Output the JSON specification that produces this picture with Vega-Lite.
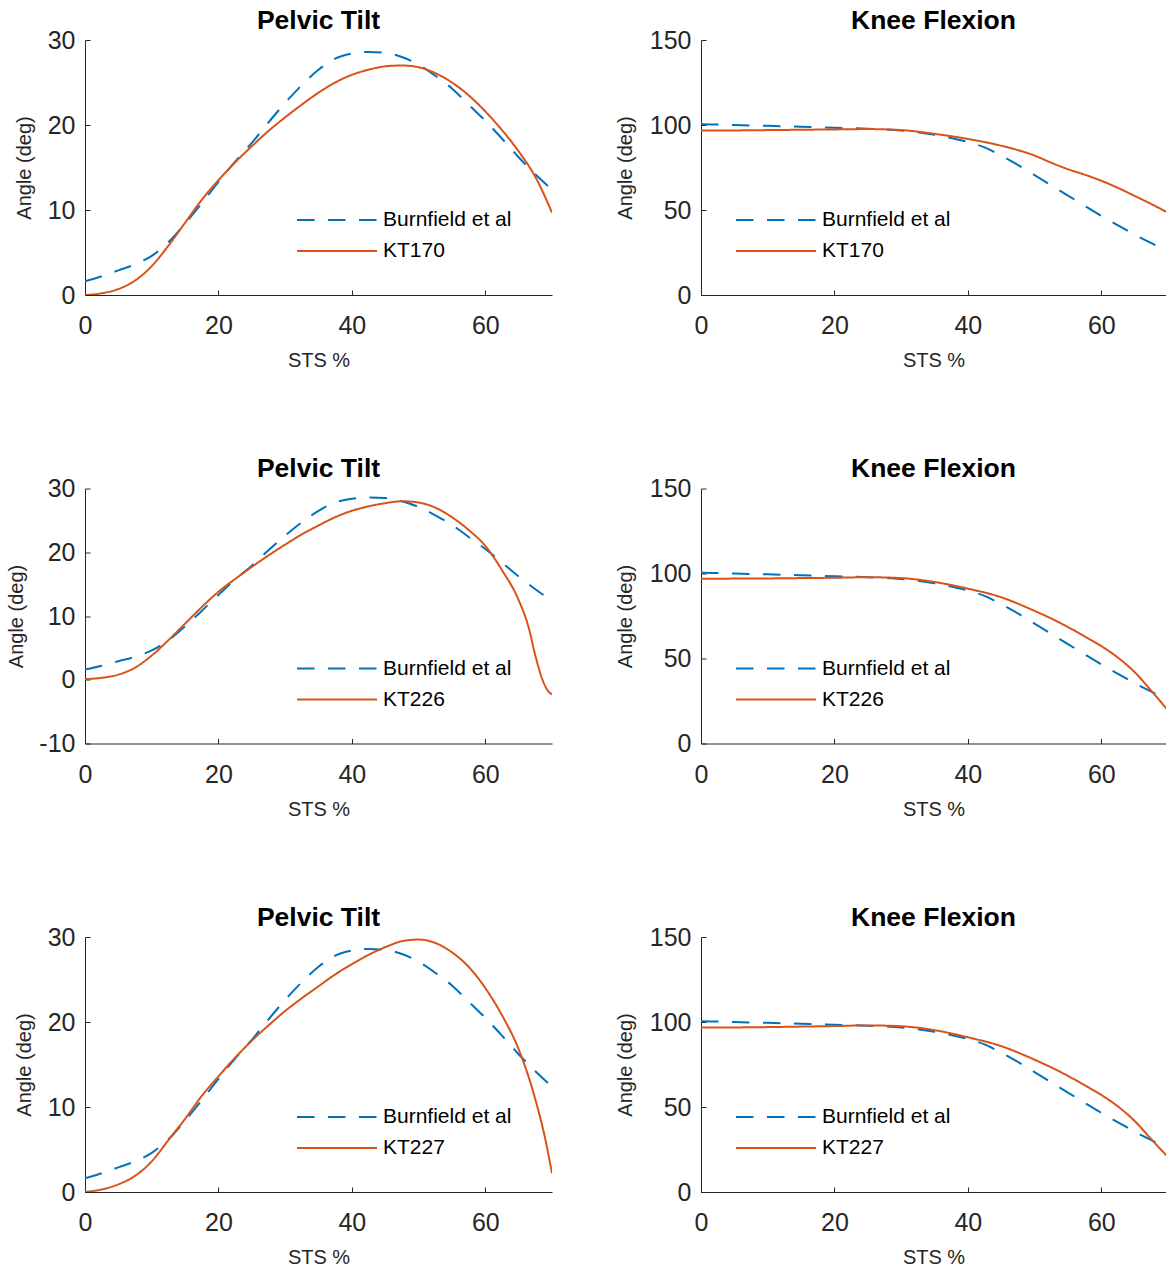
{
  "$schema": "https://vega.github.io/schema/vega-lite/v6.json",
  "background": "white",
  "padding": {"top": 7, "left": 6, "right": 0, "bottom": 0},
  "columns": 2,
  "spacing": {"row": 84.5, "column": 63},
  "datasets": {
    "bp": [
      {"x": 0, "y": 1.6, "s": "Burnfield et al"}, {"x": 2.5, "y": 2.2, "s": "Burnfield et al"}, {"x": 5, "y": 2.9, "s": "Burnfield et al"}, {"x": 7.5, "y": 3.6, "s": "Burnfield et al"}, {"x": 10, "y": 4.6, "s": "Burnfield et al"}, {"x": 12.5, "y": 6.2, "s": "Burnfield et al"}, {"x": 15, "y": 8.4, "s": "Burnfield et al"}, {"x": 17.5, "y": 10.8, "s": "Burnfield et al"}, {"x": 20, "y": 13.3, "s": "Burnfield et al"}, {"x": 22.5, "y": 15.7, "s": "Burnfield et al"}, {"x": 25, "y": 17.9, "s": "Burnfield et al"}, {"x": 27.5, "y": 20.3, "s": "Burnfield et al"}, {"x": 30, "y": 22.6, "s": "Burnfield et al"}, {"x": 32.5, "y": 24.7, "s": "Burnfield et al"}, {"x": 35, "y": 26.5, "s": "Burnfield et al"}, {"x": 37.5, "y": 27.8, "s": "Burnfield et al"}, {"x": 40, "y": 28.4, "s": "Burnfield et al"}, {"x": 42.5, "y": 28.6, "s": "Burnfield et al"}, {"x": 45, "y": 28.5, "s": "Burnfield et al"}, {"x": 47.5, "y": 28.0, "s": "Burnfield et al"}, {"x": 50, "y": 27.1, "s": "Burnfield et al"}, {"x": 52.5, "y": 25.8, "s": "Burnfield et al"}, {"x": 55, "y": 24.3, "s": "Burnfield et al"}, {"x": 57.5, "y": 22.4, "s": "Burnfield et al"}, {"x": 60, "y": 20.5, "s": "Burnfield et al"}, {"x": 62.5, "y": 18.4, "s": "Burnfield et al"}, {"x": 65, "y": 16.2, "s": "Burnfield et al"}, {"x": 67.5, "y": 14.2, "s": "Burnfield et al"}, {"x": 70, "y": 12.4, "s": "Burnfield et al"}
    ],
    "bk": [
      {"x": 0, "y": 100.5, "s": "Burnfield et al"}, {"x": 5, "y": 100, "s": "Burnfield et al"}, {"x": 10, "y": 99.5, "s": "Burnfield et al"}, {"x": 15, "y": 99, "s": "Burnfield et al"}, {"x": 20, "y": 98.4, "s": "Burnfield et al"}, {"x": 25, "y": 97.8, "s": "Burnfield et al"}, {"x": 30, "y": 96.8, "s": "Burnfield et al"}, {"x": 35, "y": 94.2, "s": "Burnfield et al"}, {"x": 37.5, "y": 92.3, "s": "Burnfield et al"}, {"x": 40, "y": 90, "s": "Burnfield et al"}, {"x": 42.5, "y": 86.8, "s": "Burnfield et al"}, {"x": 45, "y": 82, "s": "Burnfield et al"}, {"x": 47.5, "y": 76.5, "s": "Burnfield et al"}, {"x": 50, "y": 70.5, "s": "Burnfield et al"}, {"x": 52.5, "y": 64.5, "s": "Burnfield et al"}, {"x": 55, "y": 58.5, "s": "Burnfield et al"}, {"x": 57.5, "y": 52.5, "s": "Burnfield et al"}, {"x": 60, "y": 46.5, "s": "Burnfield et al"}, {"x": 62.5, "y": 41, "s": "Burnfield et al"}, {"x": 65, "y": 35.5, "s": "Burnfield et al"}, {"x": 67.5, "y": 30.5, "s": "Burnfield et al"}, {"x": 70, "y": 25.5, "s": "Burnfield et al"}
    ],
    "p170": [
      {"x": 0, "y": 0, "s": "KT170"}, {"x": 2.5, "y": 0.2, "s": "KT170"}, {"x": 5, "y": 0.7, "s": "KT170"}, {"x": 7.5, "y": 1.7, "s": "KT170"}, {"x": 10, "y": 3.4, "s": "KT170"}, {"x": 12.5, "y": 5.8, "s": "KT170"}, {"x": 15, "y": 8.5, "s": "KT170"}, {"x": 17.5, "y": 11.2, "s": "KT170"}, {"x": 20, "y": 13.5, "s": "KT170"}, {"x": 22.5, "y": 15.6, "s": "KT170"}, {"x": 25, "y": 17.5, "s": "KT170"}, {"x": 27.5, "y": 19.3, "s": "KT170"}, {"x": 30, "y": 20.9, "s": "KT170"}, {"x": 32.5, "y": 22.4, "s": "KT170"}, {"x": 35, "y": 23.8, "s": "KT170"}, {"x": 37.5, "y": 25.0, "s": "KT170"}, {"x": 40, "y": 25.9, "s": "KT170"}, {"x": 42.5, "y": 26.5, "s": "KT170"}, {"x": 45, "y": 26.9, "s": "KT170"}, {"x": 47.5, "y": 27.0, "s": "KT170"}, {"x": 50, "y": 26.8, "s": "KT170"}, {"x": 52.5, "y": 26.1, "s": "KT170"}, {"x": 55, "y": 25.0, "s": "KT170"}, {"x": 57.5, "y": 23.5, "s": "KT170"}, {"x": 60, "y": 21.6, "s": "KT170"}, {"x": 62.5, "y": 19.4, "s": "KT170"}, {"x": 65, "y": 16.9, "s": "KT170"}, {"x": 67.5, "y": 13.9, "s": "KT170"}, {"x": 70, "y": 9.7, "s": "KT170"}
    ],
    "k170": [
      {"x": 0, "y": 96.7, "s": "KT170"}, {"x": 5, "y": 96.8, "s": "KT170"}, {"x": 10, "y": 97.0, "s": "KT170"}, {"x": 15, "y": 97.2, "s": "KT170"}, {"x": 20, "y": 97.4, "s": "KT170"}, {"x": 25, "y": 97.6, "s": "KT170"}, {"x": 30, "y": 97.0, "s": "KT170"}, {"x": 35, "y": 94.8, "s": "KT170"}, {"x": 40, "y": 91.8, "s": "KT170"}, {"x": 45, "y": 87.8, "s": "KT170"}, {"x": 50, "y": 82, "s": "KT170"}, {"x": 52.5, "y": 77.8, "s": "KT170"}, {"x": 55, "y": 74.0, "s": "KT170"}, {"x": 57.5, "y": 70.8, "s": "KT170"}, {"x": 60, "y": 67.2, "s": "KT170"}, {"x": 62.5, "y": 63.0, "s": "KT170"}, {"x": 65, "y": 58.3, "s": "KT170"}, {"x": 67.5, "y": 53.5, "s": "KT170"}, {"x": 70, "y": 48.4, "s": "KT170"}
    ],
    "p226": [
      {"x": 0, "y": 0.1, "s": "KT226"}, {"x": 2.5, "y": 0.3, "s": "KT226"}, {"x": 5, "y": 0.8, "s": "KT226"}, {"x": 7.5, "y": 1.9, "s": "KT226"}, {"x": 10, "y": 3.8, "s": "KT226"}, {"x": 12.5, "y": 6.2, "s": "KT226"}, {"x": 15, "y": 8.8, "s": "KT226"}, {"x": 17.5, "y": 11.4, "s": "KT226"}, {"x": 20, "y": 13.8, "s": "KT226"}, {"x": 22.5, "y": 15.8, "s": "KT226"}, {"x": 25, "y": 17.7, "s": "KT226"}, {"x": 27.5, "y": 19.5, "s": "KT226"}, {"x": 30, "y": 21.2, "s": "KT226"}, {"x": 32.5, "y": 22.8, "s": "KT226"}, {"x": 35, "y": 24.2, "s": "KT226"}, {"x": 37.5, "y": 25.5, "s": "KT226"}, {"x": 40, "y": 26.5, "s": "KT226"}, {"x": 42.5, "y": 27.2, "s": "KT226"}, {"x": 45, "y": 27.7, "s": "KT226"}, {"x": 47.5, "y": 28.0, "s": "KT226"}, {"x": 50, "y": 27.8, "s": "KT226"}, {"x": 52.5, "y": 27.0, "s": "KT226"}, {"x": 55, "y": 25.5, "s": "KT226"}, {"x": 57.5, "y": 23.5, "s": "KT226"}, {"x": 60, "y": 21.0, "s": "KT226"}, {"x": 62.5, "y": 17.2, "s": "KT226"}, {"x": 65, "y": 12.5, "s": "KT226"}, {"x": 66.5, "y": 8.2, "s": "KT226"}, {"x": 67.5, "y": 3.8, "s": "KT226"}, {"x": 68.5, "y": 0.2, "s": "KT226"}, {"x": 69.3, "y": -1.6, "s": "KT226"}, {"x": 70, "y": -2.3, "s": "KT226"}
    ],
    "k226": [
      {"x": 0, "y": 96.9, "s": "KT226"}, {"x": 5, "y": 97.0, "s": "KT226"}, {"x": 10, "y": 97.1, "s": "KT226"}, {"x": 15, "y": 97.3, "s": "KT226"}, {"x": 20, "y": 97.5, "s": "KT226"}, {"x": 25, "y": 97.8, "s": "KT226"}, {"x": 30, "y": 97.3, "s": "KT226"}, {"x": 35, "y": 95.0, "s": "KT226"}, {"x": 40, "y": 91.1, "s": "KT226"}, {"x": 45, "y": 86.0, "s": "KT226"}, {"x": 50, "y": 78.0, "s": "KT226"}, {"x": 52.5, "y": 73.5, "s": "KT226"}, {"x": 55, "y": 68.5, "s": "KT226"}, {"x": 57.5, "y": 63.0, "s": "KT226"}, {"x": 60, "y": 57.3, "s": "KT226"}, {"x": 62.5, "y": 50.5, "s": "KT226"}, {"x": 65, "y": 42.0, "s": "KT226"}, {"x": 67.5, "y": 31.0, "s": "KT226"}, {"x": 70, "y": 19.5, "s": "KT226"}
    ],
    "p227": [
      {"x": 0, "y": 0, "s": "KT227"}, {"x": 2.5, "y": 0.3, "s": "KT227"}, {"x": 5, "y": 0.9, "s": "KT227"}, {"x": 7.5, "y": 1.9, "s": "KT227"}, {"x": 10, "y": 3.6, "s": "KT227"}, {"x": 12.5, "y": 6.1, "s": "KT227"}, {"x": 15, "y": 8.6, "s": "KT227"}, {"x": 17.5, "y": 11.3, "s": "KT227"}, {"x": 20, "y": 13.6, "s": "KT227"}, {"x": 22.5, "y": 15.8, "s": "KT227"}, {"x": 25, "y": 17.8, "s": "KT227"}, {"x": 27.5, "y": 19.6, "s": "KT227"}, {"x": 30, "y": 21.3, "s": "KT227"}, {"x": 32.5, "y": 22.8, "s": "KT227"}, {"x": 35, "y": 24.2, "s": "KT227"}, {"x": 37.5, "y": 25.6, "s": "KT227"}, {"x": 40, "y": 26.8, "s": "KT227"}, {"x": 42.5, "y": 27.9, "s": "KT227"}, {"x": 45, "y": 28.8, "s": "KT227"}, {"x": 47.5, "y": 29.5, "s": "KT227"}, {"x": 50, "y": 29.7, "s": "KT227"}, {"x": 52.5, "y": 29.3, "s": "KT227"}, {"x": 55, "y": 28.2, "s": "KT227"}, {"x": 57.5, "y": 26.5, "s": "KT227"}, {"x": 60, "y": 24.0, "s": "KT227"}, {"x": 62.5, "y": 20.8, "s": "KT227"}, {"x": 65, "y": 16.8, "s": "KT227"}, {"x": 67.5, "y": 10.9, "s": "KT227"}, {"x": 69, "y": 6.2, "s": "KT227"}, {"x": 70, "y": 2.2, "s": "KT227"}
    ],
    "k227": [
      {"x": 0, "y": 96.7, "s": "KT227"}, {"x": 5, "y": 96.8, "s": "KT227"}, {"x": 10, "y": 97.0, "s": "KT227"}, {"x": 15, "y": 97.3, "s": "KT227"}, {"x": 20, "y": 97.6, "s": "KT227"}, {"x": 25, "y": 98.0, "s": "KT227"}, {"x": 30, "y": 97.5, "s": "KT227"}, {"x": 35, "y": 95.2, "s": "KT227"}, {"x": 40, "y": 91.0, "s": "KT227"}, {"x": 45, "y": 85.8, "s": "KT227"}, {"x": 50, "y": 77.8, "s": "KT227"}, {"x": 52.5, "y": 73.3, "s": "KT227"}, {"x": 55, "y": 68.3, "s": "KT227"}, {"x": 57.5, "y": 62.8, "s": "KT227"}, {"x": 60, "y": 57.1, "s": "KT227"}, {"x": 62.5, "y": 50.3, "s": "KT227"}, {"x": 65, "y": 41.8, "s": "KT227"}, {"x": 67.5, "y": 31.0, "s": "KT227"}, {"x": 70, "y": 20.5, "s": "KT227"}
    ]
  },
  "concat": [
    {
      "width": 467, "height": 255,
      "title": {"text": "Pelvic Tilt"},
      "encoding": {
        "x": {"field": "x", "type": "quantitative", "scale": {"domain": [0, 70], "nice": false, "zero": false}, "axis": {"values": [0, 20, 40, 60], "title": "STS %"}},
        "y": {"field": "y", "type": "quantitative", "scale": {"domain": [0, 30], "nice": false}, "axis": {"values": [0, 10, 20, 30], "title": "Angle (deg)", "minExtent": 40, "maxExtent": 40, "titlePadding": 11}},
        "color": {"field": "s", "type": "nominal", "scale": {"domain": ["Burnfield et al", "KT170"], "range": ["#0072BD", "#D95319"]}, "legend": {"legendX": 241, "legendY": 169}},
        "strokeDash": {"field": "s", "type": "nominal", "scale": {"domain": ["Burnfield et al", "KT170"], "range": [[17.5, 13.5], [1, 0]]}, "legend": {"legendX": 241, "legendY": 169}}
      },
      "layer": [
        {"data": {"name": "bp"}, "mark": {"type": "line", "interpolate": "monotone", "strokeWidth": 2, "clip": true}},
        {"data": {"name": "p170"}, "mark": {"type": "line", "interpolate": "monotone", "strokeWidth": 2, "clip": true}}
      ]
    },
    {
      "width": 465, "height": 255,
      "title": {"text": "Knee Flexion"},
      "encoding": {
        "x": {"field": "x", "type": "quantitative", "scale": {"domain": [0, 69.7], "nice": false, "zero": false}, "axis": {"values": [0, 20, 40, 60], "title": "STS %"}},
        "y": {"field": "y", "type": "quantitative", "scale": {"domain": [0, 150], "nice": false}, "axis": {"values": [0, 50, 100, 150], "title": "Angle (deg)", "minExtent": 40, "maxExtent": 40, "titlePadding": 26}},
        "color": {"field": "s", "type": "nominal", "scale": {"domain": ["Burnfield et al", "KT170"], "range": ["#0072BD", "#D95319"]}, "legend": {"legendX": 64, "legendY": 169}},
        "strokeDash": {"field": "s", "type": "nominal", "scale": {"domain": ["Burnfield et al", "KT170"], "range": [[17.5, 13.5], [1, 0]]}, "legend": {"legendX": 64, "legendY": 169}}
      },
      "layer": [
        {"data": {"name": "bk"}, "mark": {"type": "line", "interpolate": "monotone", "strokeWidth": 2, "clip": true}},
        {"data": {"name": "k170"}, "mark": {"type": "line", "interpolate": "monotone", "strokeWidth": 2, "clip": true}}
      ]
    },
    {
      "width": 467, "height": 255,
      "title": {"text": "Pelvic Tilt"},
      "encoding": {
        "x": {"field": "x", "type": "quantitative", "scale": {"domain": [0, 70], "nice": false, "zero": false}, "axis": {"values": [0, 20, 40, 60], "title": "STS %"}},
        "y": {"field": "y", "type": "quantitative", "scale": {"domain": [-10, 30], "nice": false}, "axis": {"values": [-10, 0, 10, 20, 30], "labelExpr": "'' + datum.value", "title": "Angle (deg)", "minExtent": 40, "maxExtent": 40, "titlePadding": 19}},
        "color": {"field": "s", "type": "nominal", "scale": {"domain": ["Burnfield et al", "KT226"], "range": ["#0072BD", "#D95319"]}, "legend": {"legendX": 241, "legendY": 169}},
        "strokeDash": {"field": "s", "type": "nominal", "scale": {"domain": ["Burnfield et al", "KT226"], "range": [[17.5, 13.5], [1, 0]]}, "legend": {"legendX": 241, "legendY": 169}}
      },
      "layer": [
        {"data": {"name": "bp"}, "mark": {"type": "line", "interpolate": "monotone", "strokeWidth": 2, "clip": true}},
        {"data": {"name": "p226"}, "mark": {"type": "line", "interpolate": "monotone", "strokeWidth": 2, "clip": true}}
      ]
    },
    {
      "width": 465, "height": 255,
      "title": {"text": "Knee Flexion"},
      "encoding": {
        "x": {"field": "x", "type": "quantitative", "scale": {"domain": [0, 69.7], "nice": false, "zero": false}, "axis": {"values": [0, 20, 40, 60], "title": "STS %"}},
        "y": {"field": "y", "type": "quantitative", "scale": {"domain": [0, 150], "nice": false}, "axis": {"values": [0, 50, 100, 150], "title": "Angle (deg)", "minExtent": 40, "maxExtent": 40, "titlePadding": 26}},
        "color": {"field": "s", "type": "nominal", "scale": {"domain": ["Burnfield et al", "KT226"], "range": ["#0072BD", "#D95319"]}, "legend": {"legendX": 64, "legendY": 169}},
        "strokeDash": {"field": "s", "type": "nominal", "scale": {"domain": ["Burnfield et al", "KT226"], "range": [[17.5, 13.5], [1, 0]]}, "legend": {"legendX": 64, "legendY": 169}}
      },
      "layer": [
        {"data": {"name": "bk"}, "mark": {"type": "line", "interpolate": "monotone", "strokeWidth": 2, "clip": true}},
        {"data": {"name": "k226"}, "mark": {"type": "line", "interpolate": "monotone", "strokeWidth": 2, "clip": true}}
      ]
    },
    {
      "width": 467, "height": 255,
      "title": {"text": "Pelvic Tilt"},
      "encoding": {
        "x": {"field": "x", "type": "quantitative", "scale": {"domain": [0, 70], "nice": false, "zero": false}, "axis": {"values": [0, 20, 40, 60], "title": "STS %"}},
        "y": {"field": "y", "type": "quantitative", "scale": {"domain": [0, 30], "nice": false}, "axis": {"values": [0, 10, 20, 30], "title": "Angle (deg)", "minExtent": 40, "maxExtent": 40, "titlePadding": 11}},
        "color": {"field": "s", "type": "nominal", "scale": {"domain": ["Burnfield et al", "KT227"], "range": ["#0072BD", "#D95319"]}, "legend": {"legendX": 241, "legendY": 169}},
        "strokeDash": {"field": "s", "type": "nominal", "scale": {"domain": ["Burnfield et al", "KT227"], "range": [[17.5, 13.5], [1, 0]]}, "legend": {"legendX": 241, "legendY": 169}}
      },
      "layer": [
        {"data": {"name": "bp"}, "mark": {"type": "line", "interpolate": "monotone", "strokeWidth": 2, "clip": true}},
        {"data": {"name": "p227"}, "mark": {"type": "line", "interpolate": "monotone", "strokeWidth": 2, "clip": true}}
      ]
    },
    {
      "width": 465, "height": 255,
      "title": {"text": "Knee Flexion"},
      "encoding": {
        "x": {"field": "x", "type": "quantitative", "scale": {"domain": [0, 69.7], "nice": false, "zero": false}, "axis": {"values": [0, 20, 40, 60], "title": "STS %"}},
        "y": {"field": "y", "type": "quantitative", "scale": {"domain": [0, 150], "nice": false}, "axis": {"values": [0, 50, 100, 150], "title": "Angle (deg)", "minExtent": 40, "maxExtent": 40, "titlePadding": 26}},
        "color": {"field": "s", "type": "nominal", "scale": {"domain": ["Burnfield et al", "KT227"], "range": ["#0072BD", "#D95319"]}, "legend": {"legendX": 64, "legendY": 169}},
        "strokeDash": {"field": "s", "type": "nominal", "scale": {"domain": ["Burnfield et al", "KT227"], "range": [[17.5, 13.5], [1, 0]]}, "legend": {"legendX": 64, "legendY": 169}}
      },
      "layer": [
        {"data": {"name": "bk"}, "mark": {"type": "line", "interpolate": "monotone", "strokeWidth": 2, "clip": true}},
        {"data": {"name": "k227"}, "mark": {"type": "line", "interpolate": "monotone", "strokeWidth": 2, "clip": true}}
      ]
    }
  ],
  "resolve": {
    "scale": {"x": "independent", "y": "independent", "color": "independent", "strokeDash": "independent"},
    "legend": {"color": "independent", "strokeDash": "independent"}
  },
  "config": {
    "view": {"stroke": null},
    "font": "Liberation Sans",
    "title": {"font": "Liberation Sans", "fontSize": 26.5, "fontWeight": "bold", "color": "#000000", "anchor": "middle", "frame": "group", "baseline": "alphabetic", "offset": -6},
    "axis": {"grid": false, "domainColor": "#262626", "tickColor": "#262626", "labelColor": "#262626", "titleColor": "#262626", "labelFont": "Liberation Sans", "titleFont": "Liberation Sans", "labelFontSize": 25, "titleFontSize": 20, "titleFontWeight": "normal", "domainWidth": 1, "tickWidth": 1, "tickSize": -5, "labelFlush": false, "labelOverlap": false, "labelPadding": 15},
    "axisX": {"labelPadding": 23.5, "titlePadding": 12},
    "legend": {"orient": "none", "title": null, "symbolType": "M-4,0H4", "symbolSize": 400, "symbolStrokeWidth": 2, "labelFont": "Liberation Sans", "labelFontSize": 21, "labelColor": "#000000", "rowPadding": 10, "labelOffset": 35, "padding": 0}
  }
}
